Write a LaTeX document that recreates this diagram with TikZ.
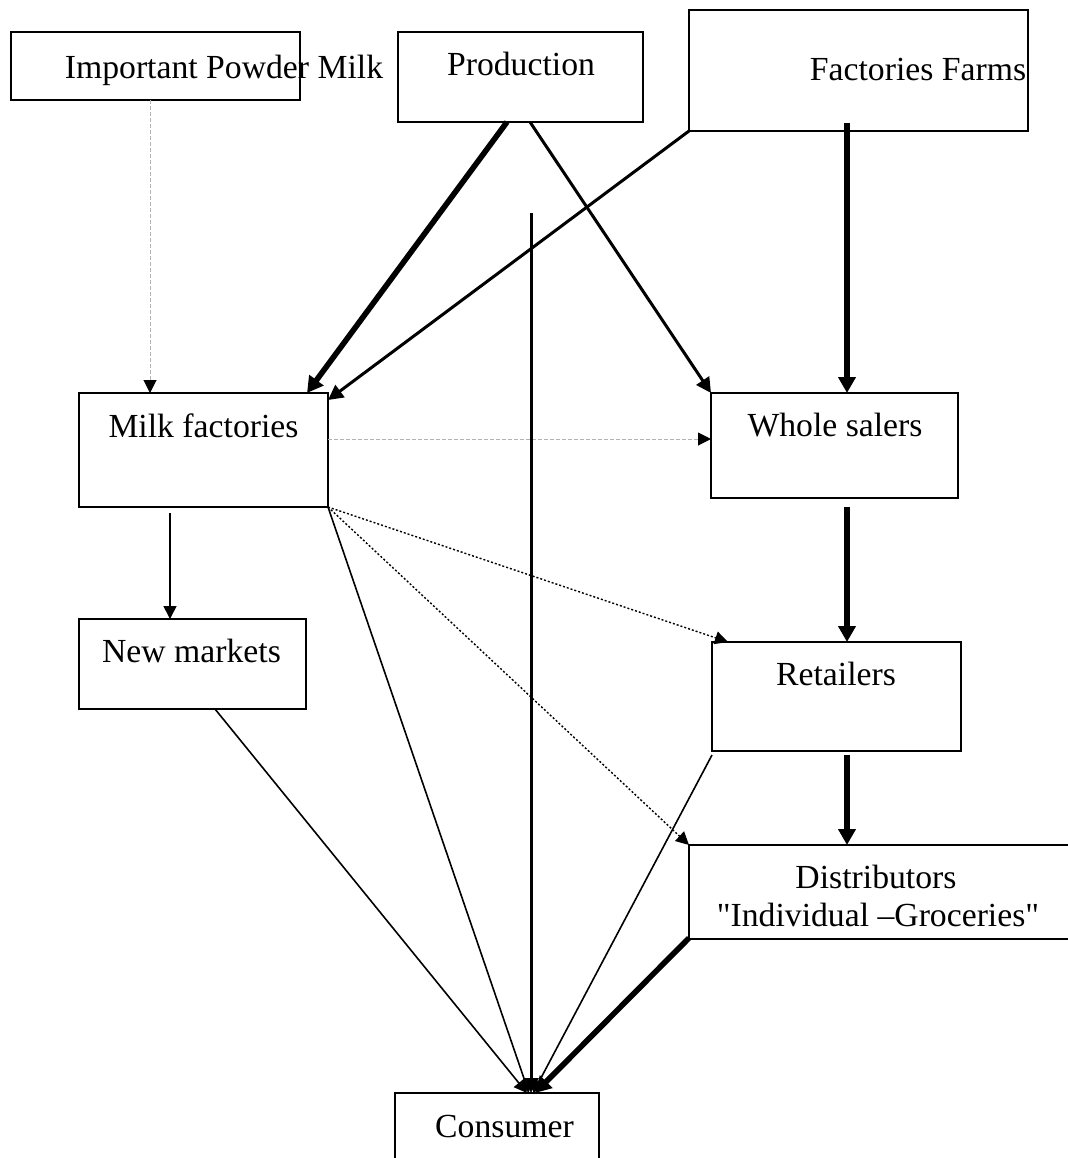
\documentclass[tikz,border=0pt]{standalone}
\usepackage{fontspec}
\setmainfont{Liberation Serif}[Ligatures=TeXOff]
\usetikzlibrary{arrows.meta}

\tikzset{
  box/.style={draw, line width=1pt, inner sep=0pt, outer sep=0pt},
  txt/.style={anchor=base, inner sep=0pt, font=\fontsize{16.85}{20}\selectfont},
  thin/.style={line width=0.8pt, -{Triangle[length=6.5pt,width=6.5pt]}},
  mid/.style={line width=1.5pt, -{Triangle[length=7.5pt,width=7.5pt]}},
  heavy/.style={line width=2.8pt, -{Triangle[length=8pt,width=8.5pt]}},
  dots/.style={line width=0.7pt, dash pattern=on 1pt off 1pt, -{Triangle[length=6.5pt,width=6.5pt]}},
  faint/.style={line width=0.5pt, black!30, dash pattern=on 2pt off 1pt, -{Triangle[length=6.5pt,width=6.5pt,black]}}
}

\begin{document}
\begin{tikzpicture}[x=0.5pt, y=-0.5pt]
\useasboundingbox (0,0) rectangle (1068,1158);
% Boxes
\node[box, minimum width=144.5pt, minimum height=34pt] (imp) at (155.5,66) {};
\node[box, minimum width=122.5pt, minimum height=45pt] (prod) at (520.5,77) {};
\node[box, minimum width=169.5pt, minimum height=60.5pt] (farms) at (858.5,70.5) {};
\node[box, minimum width=124.5pt, minimum height=57pt] (milk) at (203.5,450) {};
\node[box, minimum width=123.5pt, minimum height=52.5pt] (whole) at (834.5,445.5) {};
\node[box, minimum width=113.5pt, minimum height=45pt] (newm) at (192.5,664) {};
\node[box, minimum width=124.5pt, minimum height=54.5pt] (retail) at (836.5,696.5) {};
\node[box, minimum width=193pt, minimum height=47pt] (distr) at (882,892) {};
\node[box, minimum width=102pt, minimum height=43.5pt] (cons) at (497,1136.5) {};
% Labels
\node[txt] (limp) at (224,78) {Important Powder Milk};
\node[txt] (lprod) at (521,75) {Production};
\node[txt] (lfarms) at (918,80) {Factories Farms};
\node[txt] (lmilk) at (203.5,437) {Milk factories};
\node[txt] (lwhole) at (835,436) {Whole salers};
\node[txt] (lnewm) at (191.5,662) {New markets};
\node[txt] (lretail) at (836,685) {Retailers};
\node[txt] (ldistr) at (876,888) {Distributors};
\node[txt] (lgroc) at (878,926) {"Individual –Groceries"};
\node[txt] (lcons) at (504.5,1137) {Consumer};
% Columns and rows used by the straight connectors
\coordinate (colA) at (150,0);
\coordinate (colB) at (170,0);
\coordinate (colM) at (531,0);
\coordinate (colR) at (847,0);
\coordinate (rowW) at (0,439);
\coordinate (mtop) at (531,213);
% Into milk factories
\draw[faint] (imp.south -| colA) -- (milk.north -| colA);
\draw[heavy] ([xshift=-6.75pt]prod.south) -- ([xshift=-10.5pt]milk.north east);
\draw[mid] (farms.south west) -- ([yshift=-3.5pt]milk.north east);
% Into whole salers
\draw[mid] ([xshift=4.75pt]prod.south) -- (whole.north west);
\draw[heavy] ([yshift=4pt]farms.south -| colR) -- (whole.north -| colR);
\draw[faint] (milk.east |- rowW) -- (whole.west |- rowW);
% Right hand chain
\draw[heavy] ([yshift=-4.5pt]whole.south -| colR) -- (retail.north -| colR);
\draw[heavy] ([yshift=-2pt]retail.south -| colR) -- (distr.north -| colR);
% Out of milk factories
\draw[thin] ([yshift=-3pt]milk.south -| colB) -- (newm.north -| colB);
\draw[dots] (milk.south east) -- ([xshift=8pt]retail.north west);
\draw[dots] (milk.south east) -- (distr.north west);
% Into consumer
\draw[thin] ([xshift=11.25pt]newm.south) -- ([xshift=-2pt]cons.north -| colM);
\draw[thin] (milk.south east) -- ([xshift=-1pt]cons.north -| colM);
\draw[mid] (mtop) -- (cons.north -| colM);
\draw[thin] ([yshift=-2pt]retail.south west) -- ([xshift=1pt]cons.north -| colM);
\draw[heavy] ([yshift=0.5pt]distr.south west) -- ([xshift=2pt]cons.north -| colM);
\end{tikzpicture}
\end{document}
